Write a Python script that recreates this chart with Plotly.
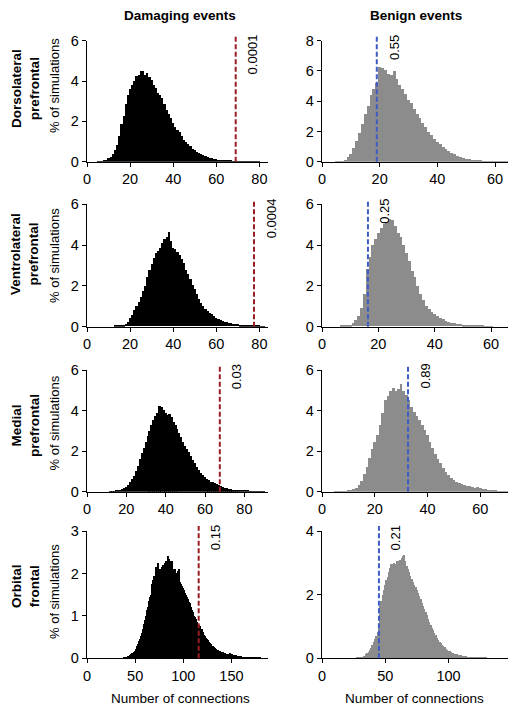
import plotly.graph_objects as go

# ---------------- data ----------------
regions = ["Dorsolateral<br>prefrontal", "Ventrolateral<br>prefrontal",
           "Medial<br>prefrontal", "Orbital<br>frontal"]
column_titles = ["Damaging events", "Benign events"]
x_title = "Number of connections"
y_title = "% of simulations"

# % of simulations per number of connections (first bin given by *_start)
dlpfc_damaging_start = 5
dlpfc_damaging = [0.01, 0.02, 0.03, 0.06, 0.12, 0.22, 0.25, 0.38, 0.6, 0.85, 1.3, 1.9, 2.3, 2.9, 3.3,
                  3.6, 3.8, 4.0, 4.25, 4.3, 4.5, 4.5, 4.3, 4.4, 4.2, 4.05, 3.8, 3.65, 3.4, 3.3,
                  3.15, 2.9, 2.6, 2.4, 2.2, 1.95, 1.75, 1.6, 1.5, 1.3, 1.1, 1.0, 0.9, 0.78, 0.65,
                  0.58, 0.5, 0.46, 0.4, 0.35, 0.3, 0.26, 0.22, 0.2, 0.16, 0.14, 0.12, 0.1, 0.09,
                  0.08, 0.06, 0.05, 0.05, 0.04, 0.03, 0.03, 0.02, 0.02, 0.02, 0.01, 0.01, 0.01,
                  0.01, 0.01, 0.02, 0.01]
dlpfc_benign_start = 5
dlpfc_benign = [0.02, 0.03, 0.06, 0.15, 0.3, 0.55, 0.95, 1.4, 1.9, 2.5, 3.2, 3.7, 4.4, 4.8, 5.2,
                6.3, 6.2, 6.05, 5.8, 5.75, 6.0, 5.5, 5.1, 4.8, 4.5, 4.1, 3.9, 3.5, 3.2, 2.9, 2.6,
                2.3, 2.0, 1.8, 1.55, 1.35, 1.2, 1.0, 0.85, 0.72, 0.6, 0.5, 0.42, 0.34, 0.28, 0.22,
                0.18, 0.14, 0.12, 0.1, 0.08, 0.06, 0.05, 0.04, 0.03, 0.03, 0.02, 0.02, 0.01, 0.01]

vlpfc_damaging_start = 13
vlpfc_damaging = [0.04, 0.05, 0.05, 0.06, 0.08, 0.12, 0.2, 0.4, 0.55, 0.78, 1.0, 1.2, 1.45, 1.75,
                  2.0, 2.4, 2.75, 3.05, 3.35, 3.6, 3.7, 3.85, 4.1, 4.3, 4.4, 4.65, 4.2, 3.85, 3.8,
                  3.65, 3.5, 3.3, 3.1, 2.75, 2.55, 2.3, 2.05, 1.85, 1.6, 1.35, 1.15, 1.0, 0.85,
                  0.75, 0.68, 0.6, 0.5, 0.42, 0.36, 0.3, 0.27, 0.23, 0.2, 0.17, 0.15, 0.13, 0.11,
                  0.1, 0.08, 0.07, 0.06, 0.05, 0.05, 0.04, 0.03, 0.03, 0.02, 0.02, 0.01, 0.01]
vlpfc_benign_start = 7
vlpfc_benign = [0.02, 0.03, 0.05, 0.08, 0.15, 0.3, 0.5, 0.9, 1.6, 2.8, 3.4, 4.0, 4.3, 4.6, 4.8, 5.0,
                5.1, 5.25, 5.2, 4.9, 4.6, 4.4, 4.0, 3.6, 3.2, 2.7, 2.4, 2.0, 1.6, 1.3, 1.0, 0.85,
                0.7, 0.6, 0.5, 0.42, 0.35, 0.28, 0.22, 0.18, 0.15, 0.12, 0.1, 0.08, 0.06, 0.05,
                0.04, 0.03, 0.03, 0.02, 0.02, 0.01, 0.01, 0.01]

mpfc_damaging_start = 12
mpfc_damaging = [0.01, 0.02, 0.03, 0.04, 0.05, 0.08, 0.12, 0.18, 0.25, 0.35, 0.5, 0.62, 0.75, 1.0,
                 1.25, 1.6, 1.9, 2.15, 2.45, 2.75, 3.0, 3.3, 3.55, 3.75, 3.9, 4.25, 4.2, 4.05, 3.9,
                 3.8, 3.85, 3.7, 3.45, 3.3, 3.1, 2.9, 2.7, 2.45, 2.25, 2.1, 1.95, 1.75, 1.55, 1.4,
                 1.2, 1.05, 0.92, 0.82, 0.72, 0.62, 0.56, 0.5, 0.46, 0.42, 0.38, 0.34, 0.3, 0.24,
                 0.2, 0.17, 0.14, 0.12, 0.1, 0.08, 0.07, 0.06, 0.07, 0.09, 0.08, 0.06, 0.04, 0.03,
                 0.03, 0.02, 0.02, 0.01, 0.01, 0.01, 0.01]
mpfc_benign_start = 5
mpfc_benign = [0.01, 0.01, 0.02, 0.02, 0.03, 0.05, 0.08, 0.12, 0.2, 0.35, 0.55, 0.85, 1.2, 1.65, 2.1,
               2.45, 2.8, 3.3, 3.9, 4.5, 4.7, 4.95, 5.1, 4.95, 5.05, 5.3, 4.95, 4.75, 4.5, 4.2,
               3.95, 3.75, 3.55, 3.3, 3.05, 2.8, 2.45, 2.15, 1.85, 1.6, 1.4, 1.15, 0.95, 0.8, 0.68,
               0.58, 0.5, 0.43, 0.38, 0.34, 0.3, 0.26, 0.23, 0.2, 0.22, 0.18, 0.14, 0.11, 0.09,
               0.07, 0.05, 0.04, 0.03, 0.03, 0.02, 0.01]

ofc_damaging_start = 38
ofc_damaging = [0.01, 0.02, 0.02, 0.03, 0.04, 0.05, 0.06, 0.08, 0.1, 0.12, 0.13, 0.15, 0.18, 0.22,
                0.28, 0.33, 0.4, 0.45, 0.52, 0.6, 0.7, 0.8, 0.9, 1.0, 1.15, 1.22, 1.35, 1.45, 1.5,
                1.62, 1.75, 1.85, 1.95, 1.9, 2.15, 2.05, 2.25, 1.85, 2.1, 2.0, 2.15, 2.2, 2.05,
                2.25, 2.3, 2.2, 2.4, 2.35, 2.3, 2.25, 2.3, 2.1, 2.05, 2.1, 1.95, 2.0, 1.9, 2.05,
                2.1, 1.8, 1.75, 1.7, 1.65, 1.6, 1.55, 1.5, 1.45, 1.4, 1.32, 1.3, 1.2, 1.15, 1.1,
                1.0, 0.98, 0.92, 0.85, 0.82, 0.78, 0.75, 0.7, 0.68, 0.62, 0.6, 0.56, 0.52, 0.48,
                0.45, 0.42, 0.38, 0.36, 0.33, 0.3, 0.28, 0.26, 0.25, 0.22, 0.2, 0.19, 0.18, 0.17,
                0.16, 0.15, 0.14, 0.13, 0.12, 0.11, 0.1, 0.1, 0.1, 0.11, 0.12, 0.1, 0.09, 0.08,
                0.08, 0.07, 0.07, 0.06, 0.06, 0.05, 0.05, 0.05, 0.04, 0.04, 0.04, 0.03, 0.03,
                0.03, 0.03, 0.02, 0.02, 0.02, 0.02, 0.02, 0.01, 0.01, 0.01, 0.01, 0.01, 0.01,
                0.01, 0.01]
ofc_benign_start = 28
ofc_benign = [0.01, 0.01, 0.02, 0.03, 0.04, 0.06, 0.08, 0.12, 0.16, 0.2, 0.26, 0.33, 0.42, 0.5,
              0.6, 0.7, 0.82, 1.0, 1.65, 1.8, 2.0, 2.15, 2.3, 2.45, 2.55, 2.7, 2.85, 2.95, 2.95,
              3.0, 2.95, 3.05, 3.0, 3.05, 3.1, 3.15, 3.2, 3.25, 3.05, 2.9, 2.8, 2.7, 2.6, 2.5,
              2.4, 2.3, 2.25, 2.15, 2.05, 1.95, 1.85, 1.75, 1.65, 1.55, 1.45, 1.35, 1.25, 1.15,
              1.05, 0.95, 0.88, 0.8, 0.72, 0.65, 0.58, 0.52, 0.47, 0.42, 0.38, 0.34, 0.3, 0.27,
              0.24, 0.22, 0.2, 0.18, 0.16, 0.15, 0.13, 0.12, 0.11, 0.1, 0.09, 0.08, 0.07, 0.06,
              0.06, 0.05, 0.05, 0.04, 0.04, 0.03, 0.03, 0.03, 0.02, 0.02, 0.02, 0.02, 0.01, 0.01,
              0.01, 0.01, 0.01]

# observed number of connections (dashed line) and p-values
damaging_observed = [69, 77.5, 67.5, 116]
benign_observed = [19, 16.3, 32.6, 45]
damaging_p = ["0.0001", "0.0004", "0.03", "0.15"]
benign_p = ["0.55", "0.25", "0.89", "0.21"]

# axis settings per panel
damaging_xmax = [84, 84, 92, 188]
benign_xmax = [64.5, 66, 70.5, 147]
damaging_dtick = [20, 20, 20, 50]
benign_dtick = [20, 20, 20, 50]
damaging_ymax = [6, 6, 6, 3]
benign_ymax = [8, 6, 6, 4]
damaging_ydtick = [2, 2, 2, 1]
benign_ydtick = [2, 2, 2, 2]

damaging_series = [(dlpfc_damaging_start, dlpfc_damaging), (vlpfc_damaging_start, vlpfc_damaging),
                   (mpfc_damaging_start, mpfc_damaging), (ofc_damaging_start, ofc_damaging)]
benign_series = [(dlpfc_benign_start, dlpfc_benign), (vlpfc_benign_start, vlpfc_benign),
                 (mpfc_benign_start, mpfc_benign), (ofc_benign_start, ofc_benign)]

# ---------------- layout / styling ----------------
W, H = 520, 712
FONT = "Liberation Sans, Arial, Helvetica, sans-serif"
col_x = [(87, 268), (322, 508)]
row_y = [(40.7, 161.7), (204.3, 326.7), (370, 491.7), (531, 658.3)]
row_label_y = [89, 254, 426, 586]
ytitle_y = [86, 256, 423.5, 592]
bar_colors = ["#000000", "#8c8c8c"]
line_colors = ["#9b1d24", "#3d5cc4"]

fig = go.Figure()
layout = dict(width=W, height=H, margin=dict(l=0, r=0, t=0, b=0, autoexpand=False),
              paper_bgcolor="white", plot_bgcolor="white", bargap=0,
              showlegend=False, font=dict(family=FONT, color="black", size=13))
shapes, annotations = [], []

def px2x(p):
    return p / W

def px2y(p):
    return 1 - p / H

for r in range(4):
    for c in range(2):
        i = r * 2 + c + 1
        xa = "x" if i == 1 else f"x{i}"
        ya = "y" if i == 1 else f"y{i}"
        if c == 0:
            start, vals = damaging_series[r]
            xmax, dt, ymax, ydt = damaging_xmax[r], damaging_dtick[r], damaging_ymax[r], damaging_ydtick[r]
            obs, ptxt = damaging_observed[r], damaging_p[r]
        else:
            start, vals = benign_series[r]
            xmax, dt, ymax, ydt = benign_xmax[r], benign_dtick[r], benign_ymax[r], benign_ydtick[r]
            obs, ptxt = benign_observed[r], benign_p[r]
        xs = list(range(start, start + len(vals)))
        fig.add_trace(go.Bar(x=xs, y=vals, width=1, xaxis=xa, yaxis=ya,
                             marker=dict(color=bar_colors[c], line=dict(width=0)),
                             hoverinfo="x+y"))
        axis_common = dict(showline=True, linecolor="black", linewidth=1.3,
                           ticks="outside", ticklen=4, tickwidth=1.2, tickcolor="black",
                           showgrid=False, zeroline=False, automargin=False,
                           tickfont=dict(family=FONT, size=14.5, color="black"))
        layout["xaxis" if i == 1 else f"xaxis{i}"] = dict(
            domain=[px2x(col_x[c][0]), px2x(col_x[c][1])], range=[0, xmax],
            tick0=0, dtick=dt, anchor=ya, **axis_common)
        layout["yaxis" if i == 1 else f"yaxis{i}"] = dict(
            domain=[px2y(row_y[r][1]), px2y(row_y[r][0])], range=[0, ymax],
            tick0=0, dtick=ydt, anchor=xa, **axis_common)
        shapes.append(dict(type="line", xref=xa, yref=f"{ya} domain",
                           x0=obs, x1=obs, y0=0, y1=1.04,
                           line=dict(color=line_colors[c], width=2, dash="5px,2.5px")))
        annotations.append(dict(text=ptxt, x=obs, xref=xa, y=1, yref=f"{ya} domain",
                                xanchor="center", yanchor="top", xshift=17, yshift=8,
                                textangle=-90, showarrow=False,
                                font=dict(family=FONT, size=13, color="black")))

    annotations.append(dict(text=f"<b>{regions[r]}</b>", x=px2x(25), y=px2y(row_label_y[r]),
                            xref="paper", yref="paper", textangle=-90, showarrow=False,
                            xanchor="center", yanchor="middle",
                            font=dict(family=FONT, size=13.5, color="black")))
    annotations.append(dict(text=y_title, x=px2x(54), y=px2y(ytitle_y[r]),
                            xref="paper", yref="paper", textangle=-90, showarrow=False,
                            xanchor="center", yanchor="middle",
                            font=dict(family=FONT, size=13, color="black")))

for c, (cx, nx) in enumerate([(180, 180), (416, 414)]):
    annotations.append(dict(text=f"<b>{column_titles[c]}</b>", x=px2x(cx), y=px2y(15),
                            xref="paper", yref="paper", showarrow=False,
                            xanchor="center", yanchor="middle",
                            font=dict(family=FONT, size=13.5, color="black")))
    annotations.append(dict(text=x_title, x=px2x(nx), y=px2y(698),
                            xref="paper", yref="paper", showarrow=False,
                            xanchor="center", yanchor="middle",
                            font=dict(family=FONT, size=13.5, color="black")))

layout["shapes"] = shapes
layout["annotations"] = annotations
fig.update_layout(**layout)
fig.write_html("out.html", config={"displayModeBar": False},
               post_script="document.body.style.margin='0';document.body.style.padding='0';"
                           "document.body.style.overflow='hidden';")
